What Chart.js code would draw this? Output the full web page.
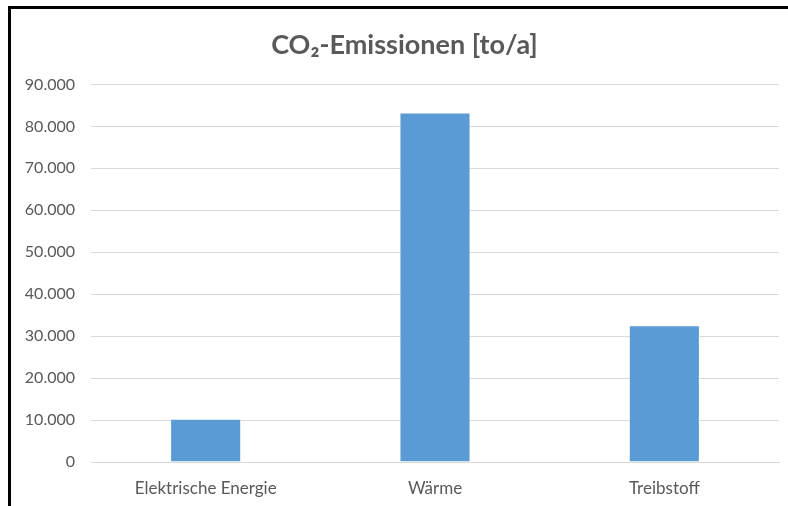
<!DOCTYPE html>
<html>
<head>
<meta charset="utf-8">
<script src="https://cdn.jsdelivr.net/npm/chart.js@4/dist/chart.umd.min.js"></script>
<style>
  html, body { margin: 0; padding: 0; background: #ffffff; }
  #wrap { position: relative; width: 788px; height: 506px; overflow: hidden; }
  #frame { position: absolute; left: 8px; top: 6px; right: -4px; bottom: -4px;
           border-left: 3px solid #000; border-top: 3px solid #000; pointer-events: none; }
  canvas { position: absolute; left: 0; top: 0; }
</style>
</head>
<body>
<div id="wrap">
  <canvas id="c" width="788" height="506"></canvas>
  <div id="frame"></div>
</div>
<script>
// CO2 emissions per sector, tonnes per year
const categories = ['Elektrische Energie', 'Wärme', 'Treibstoff'];
const emissions = [10300, 83300, 32600];
const yTicks = [0, 10000, 20000, 30000, 40000, 50000, 60000, 70000, 80000, 90000];

const FONT = 'Lato, "Open Sans", sans-serif';
const fmt = new Intl.NumberFormat('de-DE');

// centre the title over the framed area rather than the whole canvas
const titleShift = {
  id: 'titleShift',
  afterLayout(chart) {
    if (chart.titleBlock) chart.titleBlock.left += 30;
  }
};

new Chart(document.getElementById('c'), {
  type: 'bar',
  data: {
    labels: categories,
    datasets: [{
      data: emissions,
      backgroundColor: '#5b9bd5',
      borderColor: 'rgba(255,255,255,0.35)',
      borderWidth: 1,
      categoryPercentage: 1,
      barPercentage: 0.31
    }]
  },
  options: {
    responsive: false,
    animation: false,
    layout: { padding: { top: 17, right: 9, left: 0, bottom: 0 } },
    plugins: {
      legend: { display: false },
      tooltip: { enabled: false },
      title: {
        display: true,
        text: 'CO₂-Emissionen [to/a]',
        color: '#595959',
        font: { family: FONT, size: 27, weight: 'bold', lineHeight: 1.2 },
        padding: { top: 12, bottom: 23 }
      }
    },
    scales: {
      x: {
        grid: { display: false, drawTicks: false },
        border: { display: true, color: '#d9d9d9', width: 1 },
        ticks: { color: '#595959', font: { family: FONT, size: 17 }, padding: 16 },
        afterFit: s => { s.height = 44; }
      },
      y: {
        min: 0,
        max: 90000,
        afterBuildTicks: s => { s.ticks = yTicks.map(v => ({ value: v })); },
        grid: { color: '#d9d9d9', lineWidth: 1, drawTicks: false },
        border: { display: false },
        ticks: {
          color: '#595959',
          font: { family: FONT, size: 16 },
          padding: 16,
          callback: v => fmt.format(v)
        },
        afterFit: s => { s.width = 91; }
      }
    }
  },
  plugins: [titleShift]
});
</script>
</body>
</html>
